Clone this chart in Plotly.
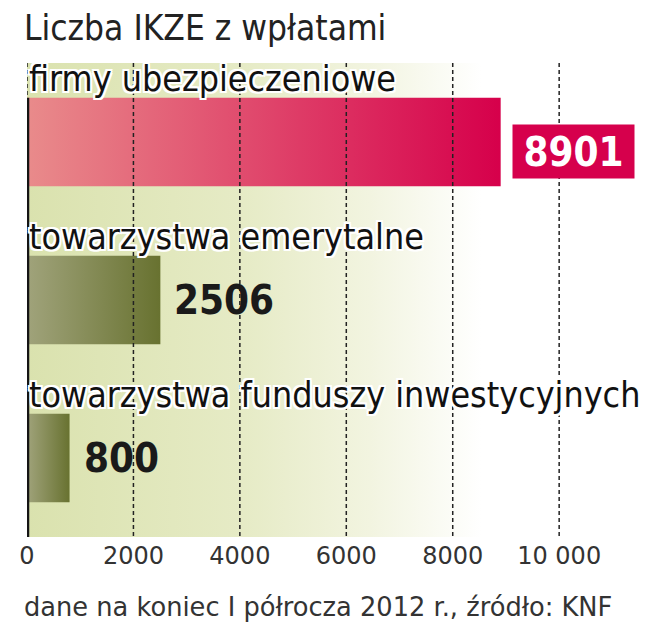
"""
Liczba IKZE z wpłatami - horizontal bar chart
"""
import plotly.graph_objects as go

categories = ['firmy ubezpieczeniowe', 'towarzystwa emerytalne',
              'towarzystwa funduszy inwestycyjnych']
values = [8901, 2506, 800]
tick_vals = [0, 2000, 4000, 6000, 8000, 10000]
tick_text = ['0', '2000', '4000', '6000', '8000', '10 000']

title = 'Liczba IKZE z wpłatami'
source = 'dane na koniec I półrocza 2012 r., źródło: KNF'

X_MAX = 11707
HALF = 0.28
NARROW = 'DejaVu Sans Condensed, Liberation Sans Narrow, Arial, sans-serif'
PLAIN = 'DejaVu Sans, Arial, sans-serif'
OUTLINE = ', '.join(f'{dx}px {dy}px 0 #fff' for dx in (-2, 0, 2) for dy in (-2, 0, 2)
                    if dx or dy)

# the page puts the figure 8px in from the top left corner
W, H = 642, 632
ml, mr, mt, mb = 19, 0, 55, 103
pw, ph = W - ml - mr, H - mt - mb


def px_x(x):
    return (x - ml) / pw


def px_y(y):
    return 1 - (y - mt) / ph


fig = go.Figure()

# background tint fading to white
fig.add_trace(go.Scatter(
    x=[0, X_MAX, X_MAX, 0, 0], y=[-0.5, -0.5, 2.5, 2.5, -0.5],
    mode='lines', line=dict(width=0), fill='toself',
    fillgradient=dict(type='horizontal', start=0, stop=X_MAX,
                      colorscale=[[0, '#dae2ae'], [0.35, '#e6ebc6'],
                                  [0.55, '#f2f4e0'], [0.73, '#ffffff'],
                                  [1, '#ffffff']]),
    hoverinfo='skip', showlegend=False))

# bars with gradient fill
for i, (cat, v) in enumerate(zip(categories, values)):
    if i == 0:
        scale = [[0, '#e98b8b'], [1, '#d6004b']]
    else:
        scale = [[0, '#a0a37b'], [1, '#687230']]
    fig.add_trace(go.Scatter(
        x=[0, v, v, 0, 0], y=[i - HALF, i - HALF, i + HALF, i + HALF, i - HALF],
        mode='lines', line=dict(width=0), fill='toself',
        fillgradient=dict(type='horizontal', colorscale=scale),
        name=cat, hovertext=f'{cat}: {v}', hoverinfo='text', showlegend=False))

# dashed gridlines on top of the bars
gx, gy = [], []
for t in tick_vals:
    gx += [t, t, None]
    gy += [-0.5, 2.5, None]
fig.add_trace(go.Scatter(x=gx, y=gy, mode='lines',
                         line=dict(color='#222', width=1.5, dash='4px,3px'),
                         hoverinfo='skip', showlegend=False))

# solid baseline
fig.add_trace(go.Scatter(x=[0, 0], y=[-HALF, 2.5], mode='lines',
                         line=dict(color='#151515', width=4.5),
                         hoverinfo='skip', showlegend=False))

# category labels
for i, cat in enumerate(categories):
    fig.add_annotation(x=0, y=i - 0.405, xref='x', yref='y', text=cat,
                       showarrow=False, xanchor='left', yanchor='middle',
                       font=dict(family=NARROW, size=35.5, color='#111',
                                 shadow=OUTLINE))

# value labels
for i, v in enumerate(values):
    if i == 0:
        fig.add_annotation(x=v, y=i, xref='x', yref='y', text=f'<b>{v}</b>',
                           showarrow=False, xanchor='left', yanchor='middle',
                           xshift=11, yshift=-9, bgcolor='#d6004c', borderpad=0,
                           width=121, height=53, align='center',
                           font=dict(family=NARROW, size=40, color='white'))
    else:
        fig.add_annotation(x=v, y=i, xref='x', yref='y', text=f'<b>{v}</b>',
                           showarrow=False, xanchor='left', yanchor='middle',
                           xshift=12, font=dict(family=NARROW, size=40, color='#1a1a1a'))

fig.add_annotation(x=px_x(14), y=px_y(20), xref='paper', yref='paper', text=title,
                   showarrow=False, xanchor='left', yanchor='middle',
                   font=dict(family=NARROW, size=35, color='#222'))
fig.add_annotation(x=px_x(14), y=px_y(599), xref='paper', yref='paper', text=source,
                   showarrow=False, xanchor='left', yanchor='middle',
                   font=dict(family=PLAIN, size=25.7, color='#333'))

fig.update_xaxes(range=[0, X_MAX], tickvals=tick_vals, ticktext=tick_text,
                 showgrid=False, zeroline=False, showline=False, ticks='',
                 ticklabelstandoff=2,
                 tickfont=dict(family=PLAIN, size=24, color='#333'))
fig.update_yaxes(range=[2.5, -0.5], visible=False, showgrid=False, zeroline=False)

fig.update_layout(width=W, height=H, margin=dict(l=ml, r=mr, t=mt, b=mb),
                  plot_bgcolor='white', paper_bgcolor='white',
                  showlegend=False)

fig.write_html('out.html')
